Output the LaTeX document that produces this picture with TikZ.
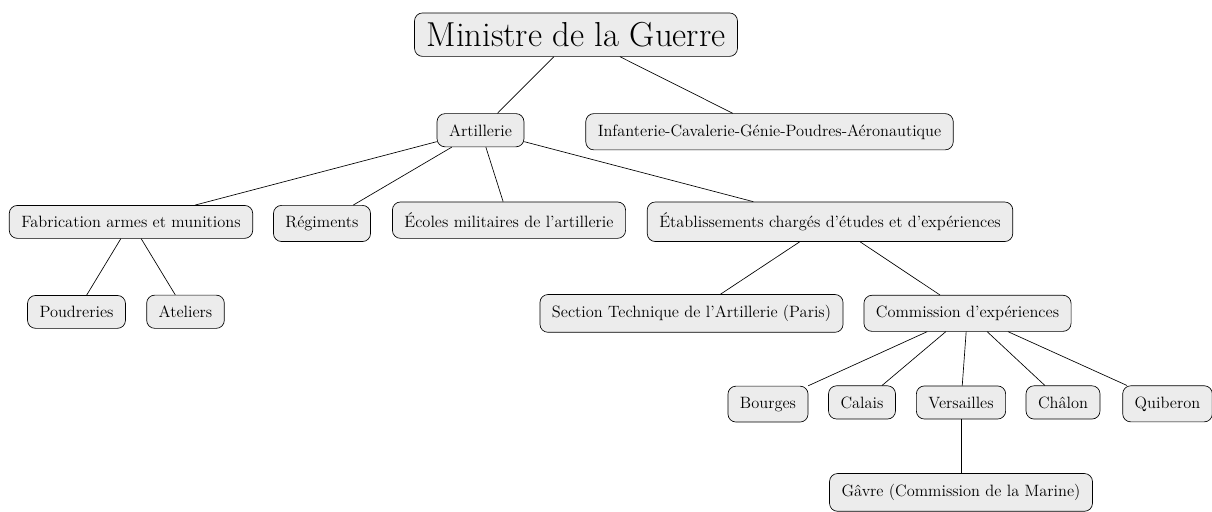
\documentclass[tikz,border=0pt]{standalone}
\usepackage{fontspec}
\usepackage{tikz}

\tikzset{
  box/.style={draw, rounded corners=6pt, fill=gray!15, line width=0.5pt,
    inner xsep=9pt, inner ysep=8pt, anchor=base,
    font=\fontsize{12.3}{14}\selectfont},
  bigbox/.style={box, inner ysep=7pt, font=\fontsize{26}{30}\selectfont},
  link/.style={line width=0.5pt}
}

\begin{document}
\begin{tikzpicture}[x=0.75pt,y=-0.75pt]
    \useasboundingbox (0,0) rectangle (1212,511);

    \node[bigbox] (min) at (576,46.5) {Ministre de la Guerre};

    \node[box] (art) at (480.5,136) {Artillerie};
    \node[box] (inf) at (769.5,136) {Infanterie-Cavalerie-Génie-Poudres-Aéronautique};

    \node[box] (fab) at (131,227.5) {Fabrication armes et munitions};
    \node[box] (reg) at (322,227.5) {Régiments};
    \node[box] (eco) at (509,227.5) {Écoles militaires de l’artillerie};
    \node[box] (eta) at (830,227.5) {Établissements chargés d’études et d’expériences};

    \node[box] (pou) at (76.5,317.5) {Poudreries};
    \node[box] (ate) at (185.5,317.5) {Ateliers};
    \node[box] (sec) at (691.5,317.5) {Section Technique de l’Artillerie (Paris)};
    \node[box] (com) at (967.5,317.5) {Commission d’expériences};

    \node[box] (bou) at (768,408) {Bourges};
    \node[box] (cal) at (862,408) {Calais};
    \node[box] (ver) at (961,408) {Versailles};
    \node[box] (cha) at (1063,408) {Châlon};
    \node[box] (qui) at (1167.5,408) {Quiberon};

    \node[box] (gav) at (961,496.5) {Gâvre (Commission de la Marine)};

    \draw[link] (min) -- (art);
    \draw[link] (min) -- (inf);
    \draw[link] (art) -- (fab);
    \draw[link] (art) -- (reg);
    \draw[link] (art) -- (eco);
    \draw[link] (art) -- (eta);
    \draw[link] (fab) -- (pou);
    \draw[link] (fab) -- (ate);
    \draw[link] (eta) -- (sec);
    \draw[link] (eta) -- (com);
    \draw[link] (com) -- (bou);
    \draw[link] (com) -- (cal);
    \draw[link] (com) -- (ver);
    \draw[link] (com) -- (cha);
    \draw[link] (com) -- (qui);
    \draw[link] (ver) -- (gav);

\end{tikzpicture}
\end{document}
